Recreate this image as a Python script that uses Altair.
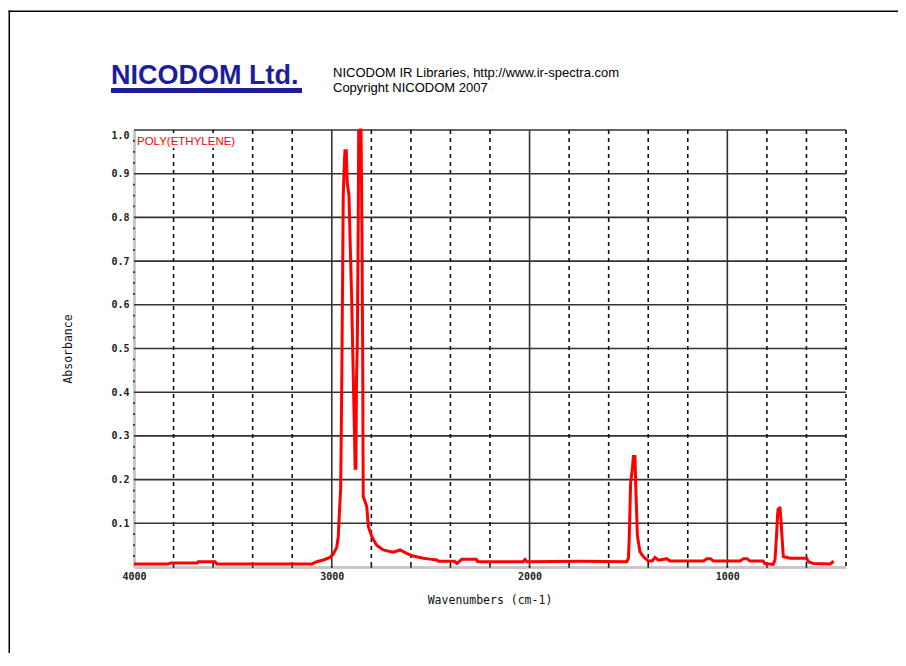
import altair as alt
import pandas as pd

# ---- spectrum ----
wavenumber = [4000, 3830, 3812, 3680, 3675, 3590, 3582, 3100, 3076, 3043,
              3009, 2992, 2975, 2967, 2962, 2955, 2950, 2948, 2942, 2936,
              2933, 2930, 2927, 2922, 2913, 2908, 2899, 2891, 2885, 2882,
              2878, 2875, 2871, 2866, 2864, 2860, 2856, 2852, 2848, 2844,
              2841, 2832, 2823, 2815, 2798, 2773, 2740, 2689, 2655, 2621,
              2588, 2537, 2503, 2470, 2460, 2380, 2367, 2355, 2342, 2270,
              2262, 2033, 2023, 2013, 1745, 1509, 1500, 1496, 1489, 1480,
              1475, 1467, 1463, 1455, 1442, 1425, 1400, 1380, 1366, 1350,
              1340, 1307, 1290, 1273, 1120, 1104, 1085, 1071, 935, 919,
              900, 886, 820, 810, 768, 759, 751, 746, 742, 738,
              734, 729, 724, 717, 683, 599, 590, 565, 481, 470,
              464]
absorbance = [0.007, 0.007, 0.009, 0.009, 0.012, 0.012, 0.007, 0.007, 0.012, 0.016,
              0.022, 0.030, 0.045, 0.070, 0.120, 0.180, 0.400, 0.505, 0.850, 0.930,
              0.956, 0.900, 0.956, 0.880, 0.850, 0.760, 0.606, 0.430, 0.300, 0.226,
              0.226, 0.430, 0.505, 0.800, 1.000, 0.970, 1.000, 1.000, 0.800, 0.505,
              0.161, 0.150, 0.138, 0.092, 0.070, 0.050, 0.039, 0.034, 0.039, 0.031,
              0.025, 0.020, 0.018, 0.016, 0.013, 0.013, 0.008, 0.013, 0.018, 0.018,
              0.012, 0.012, 0.017, 0.012, 0.013, 0.012, 0.020, 0.066, 0.192, 0.226,
              0.253, 0.253, 0.184, 0.073, 0.035, 0.024, 0.014, 0.014, 0.022, 0.016,
              0.016, 0.019, 0.014, 0.014, 0.014, 0.019, 0.019, 0.014, 0.014, 0.019,
              0.019, 0.014, 0.014, 0.008, 0.006, 0.016, 0.073, 0.120, 0.135, 0.125,
              0.138, 0.108, 0.073, 0.024, 0.020, 0.020, 0.012, 0.008, 0.007, 0.010,
              0.014]

# ---- axes / grid ----
x_tick_labels = [4000, 3000, 2000, 1000]
y_tick_labels = [0.1, 0.2, 0.3, 0.4, 0.5, 0.6, 0.7, 0.8, 0.9, 1.0]
solid_x = [3000, 2000, 1000]
dashed_x = [3800, 3600, 3400, 3200, 2800, 2600, 2400, 2200, 1800, 1600,
            1400, 1200, 800, 600, 400]
solid_y = [0.1, 0.2, 0.3, 0.4, 0.5, 0.6, 0.7, 0.8, 0.9, 1.0]
dot_y = [0.025, 0.05, 0.075, 0.125, 0.15, 0.175, 0.225, 0.25, 0.275,
         0.325, 0.35, 0.375, 0.425, 0.45, 0.475, 0.525, 0.55, 0.575,
         0.625, 0.65, 0.675, 0.725, 0.75, 0.775, 0.825, 0.85, 0.875,
         0.925, 0.95, 0.975]
dot_x = [3800, 3600, 3400, 3200, 3000, 2800, 2600, 2400, 2200, 2000,
         1800, 1600, 1400, 1200, 1000, 800, 600]

sample_name = "POLY(ETHYLENE)"
brand = "NICODOM Ltd."
info_line1 = "NICODOM IR Libraries, http://www.ir-spectra.com"
info_line2 = "Copyright NICODOM 2007"
x_title = "Wavenumbers (cm-1)"
y_title = "Absorbance"

W, H = 712, 437
X0, Y0 = 134, 130  # page position of plot origin

xscale = alt.Scale(domain=[4000, 400], nice=False, zero=False)
yscale = alt.Scale(domain=[0, 1.0], nice=False, zero=False)

MONO = "DejaVu Sans Mono"

x_axis = alt.Axis(values=x_tick_labels, format="d", title=None, grid=False,
                  ticks=False, tickSize=0, domainColor="#c8c8c8", domainWidth=3,
                  labelFont=MONO, labelFontSize=10, labelFontWeight="bold",
                  labelColor="#222222", labelPadding=4, labelFlush=False,
                  labelOverlap=False)
y_axis = alt.Axis(values=y_tick_labels, format=".1f", title=None, grid=False,
                  ticks=False, tickSize=0, domainColor="#c8c8c8", domainWidth=3,
                  labelFont=MONO, labelFontSize=10, labelFontWeight="bold",
                  labelColor="#222222", labelPadding=5, labelFlush=True,
                  labelFlushOffset=0, labelOverlap=False)


def X(field):
    return alt.X(field, type="quantitative", scale=xscale, axis=x_axis)


def Y(field):
    return alt.Y(field, type="quantitative", scale=yscale, axis=y_axis)


spec_df = pd.DataFrame({"wn": wavenumber, "ab": absorbance,
                        "i": list(range(len(wavenumber)))})

h_solid = alt.Chart(pd.DataFrame({"ab": solid_y})).mark_rule(
    color="#333333", strokeWidth=1.6).encode(y=Y("ab"))
v_solid = alt.Chart(pd.DataFrame({"wn": solid_x})).mark_rule(
    color="#333333", strokeWidth=1.6).encode(x=X("wn"))
v_dashed = alt.Chart(pd.DataFrame({"wn": dashed_x})).mark_rule(
    color="#111111", strokeWidth=1.6, strokeDash=[4, 4]).encode(x=X("wn"))

dots_left = alt.Chart(pd.DataFrame({"ab": dot_y})).mark_square(
    color="#222222", size=3, opacity=1).encode(x=alt.datum(4000, scale=xscale), y=Y("ab"))
dots_bottom = alt.Chart(pd.DataFrame({"wn": dot_x})).mark_square(
    color="#222222", size=3, opacity=1).encode(x=X("wn"), y=alt.datum(0.0, scale=yscale))

spectrum = alt.Chart(spec_df).mark_line(color="#ff0000", strokeWidth=3,
                                        strokeJoin="miter").encode(
    x=X("wn"), y=Y("ab"), order="i:Q")


def label(text, px, py, **kw):
    return alt.Chart(pd.DataFrame({"t": [text]})).mark_text(**kw).encode(
        text="t:N", x=alt.value(px - X0), y=alt.value(py - Y0))


def box(px1, px2, py1, py2, color):
    return alt.Chart(pd.DataFrame({"k": [0]})).mark_rect(color=color).encode(
        x=alt.value(px1 - X0), x2=alt.value(px2 - X0),
        y=alt.value(py1 - Y0), y2=alt.value(py2 - Y0))


name_bg = box(136, 238, 133, 148, "#ffffff")
name_txt = label(sample_name, 137, 145, font="Liberation Sans", fontSize=11.5,
                 color="#ff0000", align="left", baseline="alphabetic")
brand_txt = label(brand, 111, 84, font="Liberation Sans", fontSize=27,
                  fontWeight="bold", color="#1e1e9c", align="left",
                  baseline="alphabetic")
info1 = label(info_line1, 333, 77, font="Liberation Sans", fontSize=13,
              color="#000000", align="left", baseline="alphabetic")
info2 = label(info_line2, 333, 92, font="Liberation Sans", fontSize=13,
              color="#000000", align="left", baseline="alphabetic")
xt = label(x_title, 490, 601, font=MONO, fontSize=11.5, color="#111111",
           align="center", baseline="middle")
yt = label(y_title, 69, 349, font=MONO, fontSize=11.5, color="#111111",
           align="center", baseline="middle", angle=270)

underline = box(111, 302, 88, 93, "#1e1e9c")
frame_top = box(8.5, 906, 10.5, 12, "#000000")
frame_left = box(8.5, 10, 10.5, 666, "#000000")

chart = alt.layer(
    h_solid, v_solid, v_dashed, dots_left, dots_bottom, spectrum,
    name_bg, name_txt, brand_txt, info1, info2, xt, yt, underline,
    frame_top, frame_left
).properties(
    width=W, height=H,
    autosize=alt.AutoSizeParams(type="none"),
    padding={"left": X0 - 8, "top": Y0 - 8, "right": 890 - (X0 - 8) - W,
             "bottom": 645 - (Y0 - 8) - H},
    background="white",
).configure_view(strokeWidth=0)

chart.save("out.html", embed_options={"renderer": "svg", "actions": False})
